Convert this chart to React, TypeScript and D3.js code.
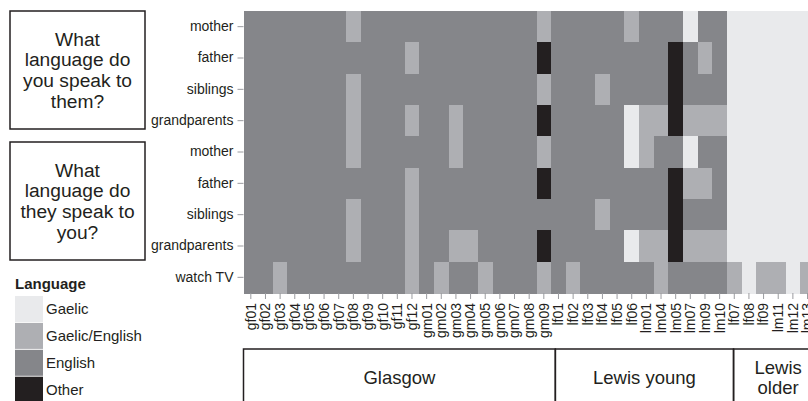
import React, { useEffect, useRef } from 'react';
import * as d3 from 'd3';

const width = 808;
const height = 401;
const font = 'Liberation Sans, Arial, Helvetica, sans-serif';
const ink = '#231f20';

// participants, in column order
const participants = [
  'gf01', 'gf02', 'gf03', 'gf04', 'gf05', 'gf06', 'gf07', 'gf08', 'gf09', 'gf10', 'gf11', 'gf12',
  'gm01', 'gm02', 'gm03', 'gm04', 'gm05', 'gm06', 'gm07', 'gm08', 'gm09',
  'lf01', 'lf02', 'lf03', 'lf04', 'lf05', 'lf06',
  'lm01', 'lm04', 'lm05', 'lm07', 'lm09', 'lm10',
  'lf07', 'lf08', 'lf09', 'lm11', 'lm12', 'lm13'
];

const rowLabels = [
  'mother', 'father', 'siblings', 'grandparents',
  'mother', 'father', 'siblings', 'grandparents',
  'watch TV'
];

// g = Gaelic, b = Gaelic/English, e = English, o = Other (one char per participant)
const speakToMother = 'eeeeeeebeeeeeeeeeeeebeeeeebeeegeegggggg';
const speakToFather = 'eeeeeeeeeeebeeeeeeeeoeeeeeeeeoebegggggg';
const speakToSiblings = 'eeeeeeebeeeeeeeeeeeebeeebeeeeoeeegggggg';
const speakToGrandparents = 'eeeeeeebeeebeebeeeeeoeeeeegbbobbbgggggg';
const fromMother = 'eeeeeeebeeeeeebeeeeebeeeeegbeegeegggggg';
const fromFather = 'eeeeeeeeeeebeeeeeeeeoeeeeeeeeobbegggggg';
const fromSiblings = 'eeeeeeebeeebeeeeeeeeeeeebeeeeoeeegggggg';
const fromGrandparents = 'eeeeeeebeeebeebbeeeeoeeeeegbbobbbgggggg';
const watchTV = 'eebeeeeeeeebebeebeeebebeeeeebeeeebgbbgb';

const responses = [
  speakToMother, speakToFather, speakToSiblings, speakToGrandparents,
  fromMother, fromFather, fromSiblings, fromGrandparents, watchTV
];

const languages = ['Gaelic', 'Gaelic/English', 'English', 'Other'];
const codes = ['g', 'b', 'e', 'o'];
const shades = ['#e9eaec', '#aeafb3', '#85868a', '#231f20'];

const groups = [
  { name: ['Glasgow'], from: 0, to: 21 },
  { name: ['Lewis young'], from: 21, to: 33 },
  { name: ['Lewis', 'older'], from: 33, to: 39 }
];

const questions = [
  { lines: ['What', 'language do', 'you speak to', 'them?'], y0: 11, y1: 129 },
  { lines: ['What', 'language do', 'they speak to', 'you?'], y0: 142, y1: 260 }
];

const left = 243.5;
const colW = 14.65;
const top = 11;
const bottom = 293;

const x = d3.scaleBand().domain(participants).range([left, left + colW * participants.length]);
const rowIds = rowLabels.map((_, i) => String(i));
const y = d3.scaleBand().domain(rowIds).range([top, bottom]);
const color = d3.scaleOrdinal<string, string>().domain(codes).range(shades);
// the group panel below is drawn on its own slightly wider scale
const gx = d3.scaleLinear().domain([0, participants.length]).range([left, left + 14.85 * participants.length]);

const cells = responses.flatMap((row, r) =>
  participants.map((p, c) => ({ p, r: String(r), code: row[c] }))
);

export default function App() {
  const xRef = useRef<SVGGElement>(null);
  const yRef = useRef<SVGGElement>(null);

  useEffect(() => {
    const xAxis = d3.axisBottom(x).tickSize(6).tickPadding(0);
    const gX = d3.select(xRef.current!).call(xAxis);
    gX.select('.domain').remove();
    gX.selectAll('.tick line').attr('stroke', '#9a9b9f');
    gX.selectAll('.tick text')
      .attr('transform', 'rotate(-90)')
      .attr('x', -10)
      .attr('y', 0)
      .attr('dy', '0.35em')
      .style('text-anchor', 'end')
      .attr('fill', ink)
      .style('font-size', '14px')
      .style('font-family', font);

    const yAxis = d3.axisLeft(y).tickSize(6).tickPadding(4).tickFormat(d => rowLabels[+d]);
    const gY = d3.select(yRef.current!).call(yAxis);
    gY.select('.domain').remove();
    gY.selectAll('.tick line').attr('stroke', '#9a9b9f');
    gY.selectAll('.tick text')
      .attr('fill', ink)
      .style('font-size', '14px')
      .style('font-family', font);
  }, []);

  const fs = 18.5;
  const qfs = 19.2;
  const lh = 20.6;

  return (
    <svg width={width} height={height} style={{ position: 'absolute', left: 0, top: 0 }} fontFamily={font}>
      <rect width={width} height={height} fill="#fff" />
      <g shapeRendering="crispEdges">
        {cells.map(d => (
          <rect
            key={d.p + '-' + d.r}
            x={x(d.p)}
            y={y(d.r)}
            width={x.bandwidth() + 0.6}
            height={y.bandwidth() + 0.6}
            fill={color(d.code)}
          />
        ))}
      </g>
      <g ref={xRef} transform={`translate(0, ${bottom})`} />
      <g ref={yRef} transform={`translate(${left}, 0)`} />

      {questions.map((q, i) => {
        const cy = (q.y0 + q.y1) / 2;
        return (
          <g key={i}>
            <rect x={10} y={q.y0} width={135} height={q.y1 - q.y0} fill="none" stroke={ink} strokeWidth={1.5} />
            {q.lines.map((t, j) => (
              <text
                key={j}
                x={77.5}
                y={cy + (j - (q.lines.length - 1) / 2) * lh + 0.35 * qfs}
                textAnchor="middle"
                fontSize={qfs}
                fill={ink}
              >
                {t}
              </text>
            ))}
          </g>
        );
      })}

      <text x={15} y={289} fontSize={15} fontWeight="bold" fill={ink}>Language</text>
      {languages.map((l, i) => (
        <g key={l} transform={`translate(15, ${296 + i * 26.9})`}>
          <rect width={28} height={26} fill={shades[i]} />
          <text x={31} y={13 + 0.35 * 15} fontSize={15} fill={ink}>{l}</text>
        </g>
      ))}

      {groups.map(g => {
        const x0 = gx(g.from);
        const x1 = gx(g.to);
        const cy = 377.5;
        return (
          <g key={g.name.join(' ')}>
            <rect x={x0} y={349} width={x1 - x0} height={60} fill="none" stroke={ink} strokeWidth={1.5} />
            {g.name.map((t, j) => (
              <text
                key={j}
                x={(x0 + x1) / 2}
                y={cy + (j - (g.name.length - 1) / 2) * 20 + 0.35 * fs}
                textAnchor="middle"
                fontSize={fs}
                fill={ink}
              >
                {t}
              </text>
            ))}
          </g>
        );
      })}
    </svg>
  );
}
